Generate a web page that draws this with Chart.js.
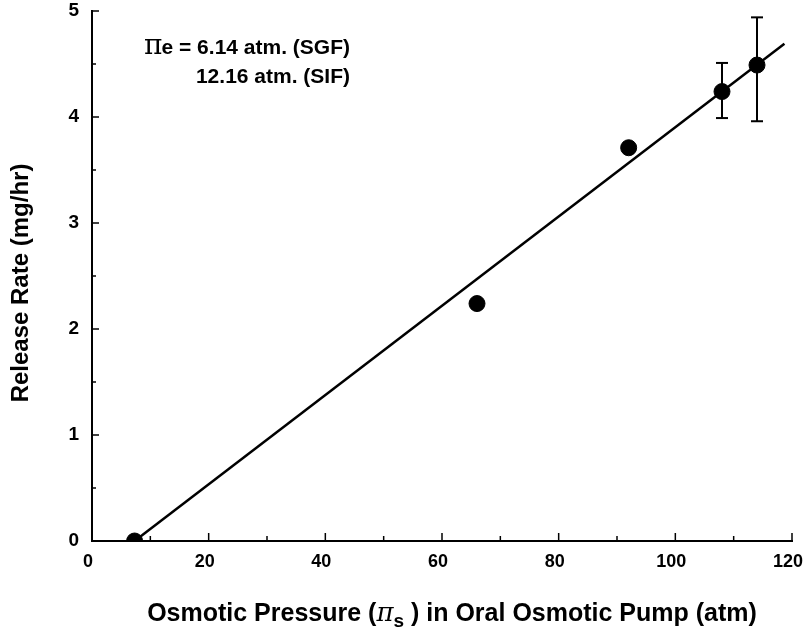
<!DOCTYPE html>
<html>
<head>
<meta charset="utf-8">
<script src="https://cdn.jsdelivr.net/npm/chart.js@4"></script>
<style>
  html, body { margin: 0; padding: 0; background: #fff; }
</style>
</head>
<body>
<canvas id="releaseChart" width="804" height="632"></canvas>
<script>
// release rate vs. osmotic pressure of the core
const pressure = [7.3, 66, 92, 108, 114];
const releaseRate = [0, 2.24, 3.71, 4.24, 4.49];
const errLow = [null, null, null, 3.99, 3.96];
const errHigh = [null, null, null, 4.51, 4.94];
// regression line endpoints
const fitX = [7.3, 118.7];
const fitY = [0, 4.69];
const xTickValues = [0, 20, 40, 60, 80, 100, 120];
const yTickValues = [0, 1, 2, 3, 4, 5];

const FONT = "'Liberation Sans', Arial, sans-serif";

function line(ctx, x1, y1, x2, y2) {
    ctx.beginPath();
    ctx.moveTo(x1, y1);
    ctx.lineTo(x2, y2);
    ctx.stroke();
}

// inward tick marks, major + minor
const axisMarks = {
    id: "axisMarks",
    afterDraw(chart) {
        const { ctx, chartArea, scales: { x, y } } = chart;
        ctx.save();
        ctx.strokeStyle = "#000";
        ctx.lineWidth = 1.5;
        for (let i = 0; i < xTickValues.length; i++) {
            const px = x.getPixelForValue(xTickValues[i]);
            line(ctx, px, chartArea.bottom, px, chartArea.bottom - 8);
            if (i < xTickValues.length - 1) {
                const mid = x.getPixelForValue((xTickValues[i] + xTickValues[i + 1]) / 2);
                line(ctx, mid, chartArea.bottom, mid, chartArea.bottom - 5);
            }
        }
        for (let i = 0; i < yTickValues.length; i++) {
            const py = y.getPixelForValue(yTickValues[i]);
            line(ctx, chartArea.left, py, chartArea.left + 7, py);
            if (i < yTickValues.length - 1) {
                const mid = y.getPixelForValue((yTickValues[i] + yTickValues[i + 1]) / 2);
                line(ctx, chartArea.left, mid, chartArea.left + 4, mid);
            }
        }
        ctx.restore();
    }
};

// vertical error bars with caps
const errorBars = {
    id: "errorBars",
    afterDatasetsDraw(chart) {
        const { ctx, scales: { x, y } } = chart;
        ctx.save();
        ctx.strokeStyle = "#000";
        ctx.lineWidth = 2;
        pressure.forEach((p, i) => {
            if (errLow[i] == null) return;
            const px = x.getPixelForValue(p);
            const top = y.getPixelForValue(errHigh[i]);
            const bot = y.getPixelForValue(errLow[i]);
            line(ctx, px, top, px, bot);
            line(ctx, px - 6, top, px + 6, top);
            line(ctx, px - 6, bot, px + 6, bot);
        });
        ctx.restore();
    }
};

// axis titles and the annotation (need a subscript, so drawn by hand)
const labels = {
    id: "labels",
    afterDraw(chart) {
        const { ctx } = chart;
        ctx.save();
        ctx.fillStyle = "#000";
        ctx.textBaseline = "alphabetic";

        // y title
        ctx.save();
        ctx.translate(28, 283);
        ctx.rotate(-Math.PI / 2);
        ctx.textAlign = "center";
        ctx.font = "bold 24px " + FONT;
        ctx.fillText("Release Rate (mg/hr)", 0, 0);
        ctx.restore();

        // x title with subscript s
        const parts = [
            { t: "Osmotic Pressure (", f: "bold 25px " + FONT, dy: 0 },
            { t: "\u03c0", f: "italic 26px 'DejaVu Serif', serif", dy: 0 },
            { t: "s", f: "bold 19px " + FONT, dy: 6 },
            { t: " ) in Oral Osmotic Pump (atm)", f: "bold 25px " + FONT, dy: 0 }
        ];
        let total = 0;
        parts.forEach(p => { ctx.font = p.f; total += ctx.measureText(p.t).width; });
        let cx = 452 - total / 2;
        ctx.textAlign = "left";
        parts.forEach(p => {
            ctx.font = p.f;
            ctx.fillText(p.t, cx, 621 + p.dy);
            cx += ctx.measureText(p.t).width;
        });

        // osmotic pressure of the medium
        ctx.textAlign = "right";
        ctx.font = "bold 21px " + FONT;
        ctx.fillText("= 6.14 atm. (SGF)", 350, 54);
        ctx.fillText("12.16 atm. (SIF)", 350, 83);
        const w = ctx.measureText("= 6.14 atm. (SGF)").width;
        ctx.fillText("e ", 350 - w, 54);
        const we = ctx.measureText("e ").width;
        ctx.font = "28px 'DejaVu Serif', serif";
        ctx.fillText("\u03c0", 350 - w - we + 1, 54);
        ctx.restore();
    }
};

const ctx = document.getElementById("releaseChart").getContext("2d");
new Chart(ctx, {
    type: "scatter",
    data: {
        datasets: [
            {
                label: "Release rate",
                data: pressure.map((p, i) => ({ x: p, y: releaseRate[i] })),
                backgroundColor: "#000",
                borderColor: "#000",
                pointRadius: 8,
                pointHoverRadius: 8
            },
            {
                label: "Fit",
                type: "line",
                data: fitX.map((v, i) => ({ x: v, y: fitY[i] })),
                borderColor: "#000",
                borderWidth: 2.5,
                pointRadius: 0,
                fill: false
            }
        ]
    },
    options: {
        responsive: false,
        animation: false,
        layout: { padding: { top: 11, right: 12, left: 0, bottom: 0 } },
        plugins: {
            legend: { display: false },
            tooltip: { enabled: false }
        },
        scales: {
            x: {
                type: "linear",
                min: 0,
                max: 120,
                afterBuildTicks: s => { s.ticks = xTickValues.map(v => ({ value: v })); },
                afterFit: s => { s.height = 91; s.paddingLeft = 0; s.paddingRight = 0; },
                grid: { display: true, drawOnChartArea: false, drawTicks: false },
                border: { display: true, color: "#000", width: 2 },
                ticks: {
                    color: "#000",
                    padding: 10,
                    labelOffset: -4,
                    font: { family: FONT, size: 18, weight: "bold" }
                }
            },
            y: {
                type: "linear",
                min: 0,
                max: 5,
                afterBuildTicks: s => { s.ticks = yTickValues.map(v => ({ value: v })); },
                afterFit: s => { s.width = 92; s.paddingTop = 0; s.paddingBottom = 0; },
                grid: { display: true, drawOnChartArea: false, drawTicks: false },
                border: { display: true, color: "#000", width: 2 },
                ticks: {
                    color: "#000",
                    padding: 13,
                    font: { family: FONT, size: 19, weight: "bold" }
                }
            }
        }
    },
    plugins: [axisMarks, errorBars, labels]
});
</script>
</body>
</html>
